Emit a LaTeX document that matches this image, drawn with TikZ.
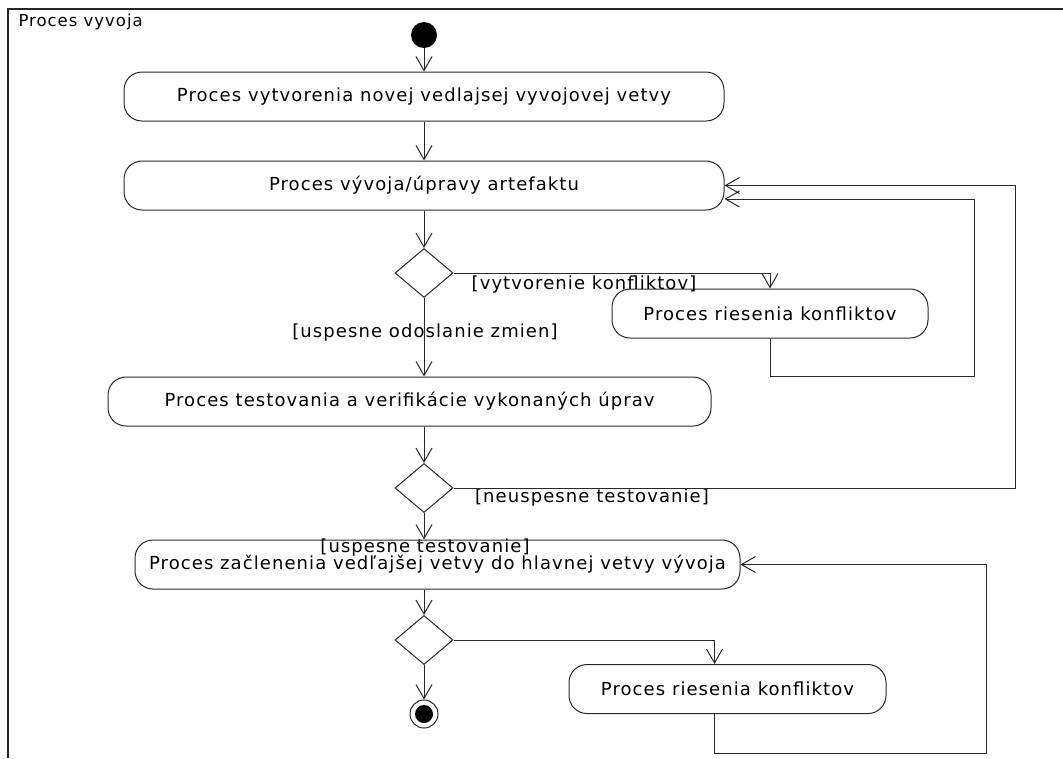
\documentclass[tikz,border=0pt]{standalone}
\usepackage{fontspec}
\setmainfont[LetterSpace=6]{DejaVu Sans}
\usetikzlibrary{shapes.geometric,arrows.meta,positioning}
\definecolor{umlline}{RGB}{40,40,40}

\begin{document}
\begin{tikzpicture}[
    x=1pt, y=-1pt,
    font=\fontsize{18}{20}\selectfont,
    action/.style={rectangle, draw=umlline, rounded corners=18pt, line width=1pt, inner sep=0pt, minimum height=49pt},
    decision/.style={diamond, draw=umlline, line width=1pt, inner sep=0pt, minimum width=58pt, minimum height=49pt},
    guard/.style={inner sep=0pt},
    flow/.style={draw=umlline, line width=1pt, -{Straight Barb[length=14pt, width=16pt]}}
]
\useasboundingbox (0,0) rectangle (1063,758);

% Frame
\draw[umlline, line width=1.5pt] (8,758) |- (1063,9);
\node[anchor=west, font=\fontsize{16.5}{18}\selectfont] (title) at (15,22) {Proces vyvoja};

% Activities
\node[circle, fill=black, inner sep=0pt, minimum size=26pt] (start) at (424,35) {};
\node[action, minimum width=600pt] (create) at (424,96.5) {Proces vytvorenia novej vedlajsej vyvojovej vetvy};
\node[action, minimum width=600pt] (develop) at (424,185.5) {Proces vývoja/úpravy artefaktu};
\node[decision] (check) at (424,273) {};
\node[action, minimum width=316pt] (resolve) at (770,313.5) {Proces riesenia konfliktov};
\node[action, minimum width=603pt] (test) at (409.5,401.5) {Proces testovania a verifikácie vykonaných úprav};
\node[decision] (verify) at (424,488) {};
\node[action, minimum width=605pt] (merge) at (437.5,564.5) {Proces začlenenia vedľajšej vetvy do hlavnej vetvy vývoja};
\node[decision] (mergecheck) at (424,640) {};
\node[action, minimum width=317pt] (resolvemerge) at (727.5,689) {Proces riesenia konfliktov};
\node[circle, draw=umlline, line width=1pt, inner sep=0pt, minimum size=28pt] (finish) at (424,714) {};
\node[circle, fill=black, inner sep=0pt, minimum size=18pt] (finishdot) at (finish) {};

% Guards
\node[guard] (conflict) at (584,285) {[vytvorenie konfliktov]};
\node[guard] (pushed) at (425,333) {[uspesne odoslanie zmien]};
\node[guard] (failed) at (592,498) {[neuspesne testovanie]};
\node[guard] (passed) at (425,548) {[uspesne testovanie]};

% Loop corners
\coordinate (resolveloop) at (974,376);
\coordinate (mergeloop) at (986,753);

% Flows
\draw[flow] (start) -- (create);
\draw[flow] (create) -- (develop);
\draw[flow] (develop) -- (check);
\draw[flow] (check.east) -| (resolve.north);
\draw[flow] (resolve.south) |- (resolveloop) |- ([yshift=-13.5pt]develop.east);
\draw[flow] (check.south) -- (check.south |- test.north);
\draw[flow] (test.south -| verify) -- (verify.north);
\draw[flow] (verify.east) -- ++(562,0) |- (develop.east);
\draw[flow] (verify.south) -- (verify.south |- merge.north);
\draw[flow] (merge.south -| mergecheck) -- (mergecheck.north);
\draw[flow] (mergecheck.east) -| ([xshift=-13pt]resolvemerge.north);
\draw[flow] ([xshift=-13pt]resolvemerge.south) |- (mergeloop) |- (merge.east);
\draw[flow] (mergecheck.south) -- (finish.north);

\end{tikzpicture}
\end{document}
